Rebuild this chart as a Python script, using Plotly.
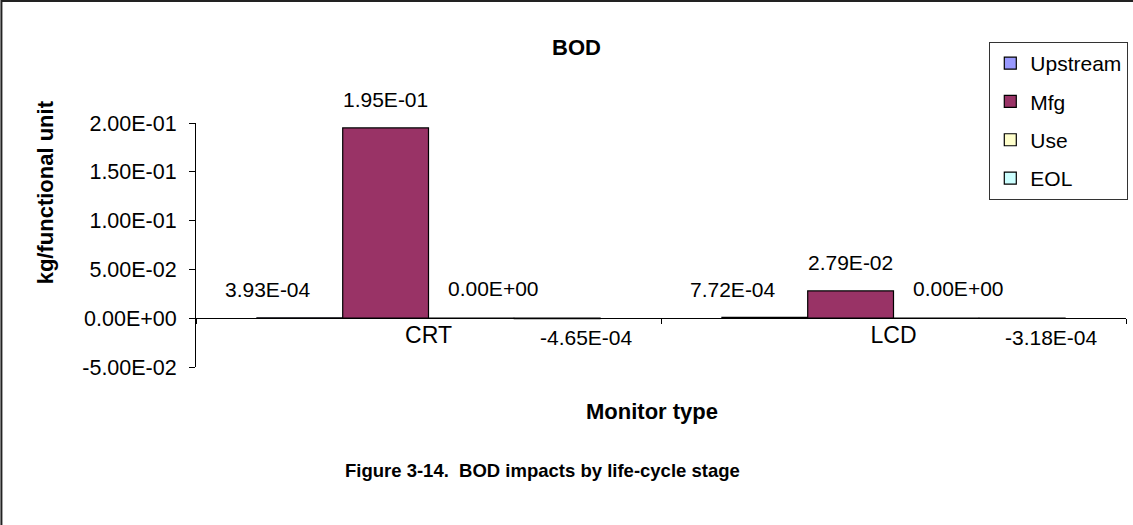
import plotly.graph_objects as go

# ---- data ----
categories = ["CRT", "LCD"]
series_names = ["Upstream", "Mfg", "Use", "EOL"]
upstream = [3.93e-4, 7.72e-4]
mfg = [1.95e-1, 2.79e-2]
use = [0.0, 0.0]
eol = [-4.65e-4, -3.18e-4]
y_ticks = [-0.05, 0.0, 0.05, 0.10, 0.15, 0.20]

series_values = [upstream, mfg, use, eol]
colors = ["#9999FF", "#993366", "#FFFFCC", "#CCFFFF"]

# ---- layout geometry (pixels) ----
W, H = 1133, 525
ML, MR, MT, MB = 196, 5, 123, 158
PW, PH = W - ML - MR, H - MT - MB
y_range = [-0.05, 0.2]
bargap = 0.262

FONT = "Liberation Sans, Arial, sans-serif"

def fmt(v):
    return f"{v:.2E}"

fig = go.Figure()
for i, (name, vals) in enumerate(zip(series_names, series_values)):
    fig.add_trace(go.Bar(
        name=name, x=categories, y=vals,
        marker=dict(color=colors[i], line=dict(color="black", width=1.2)),
        legendgroup=name, hoverinfo="skip",
    ))

# data labels
cat_px = PW / len(categories)
bar_px = cat_px * (1 - bargap) / len(series_names)
label_dx = [-32, 0, 22, 29]
annotations = []
for i, vals in enumerate(series_values):
    for c, v in zip(categories, vals):
        xs = (i - (len(series_names) - 1) / 2) * bar_px + label_dx[i]
        ys = 28 if v > 0 else (30 if v == 0 else -19)
        annotations.append(dict(
            x=c, y=v, xref="x", yref="y", text=fmt(v), showarrow=False,
            xshift=xs, yshift=ys, font=dict(family=FONT, size=21, color="black"),
            xanchor="center", yanchor="middle",
        ))

def px_x(p):
    return (p - ML) / PW

def px_y(p):
    return (H - MB - p) / PH

# titles
title_font = dict(family=FONT, size=22, color="black")
annotations += [
    dict(text="<b>BOD</b>", x=px_x(577), y=px_y(47), xref="paper", yref="paper",
         showarrow=False, xanchor="center", yanchor="middle", font=title_font),
    dict(text="<b>kg/functional unit</b>", x=px_x(45), y=px_y(192), xref="paper", yref="paper",
         showarrow=False, textangle=-90, xanchor="center", yanchor="middle", font=title_font),
    dict(text="<b>Monitor type</b>", x=px_x(653), y=px_y(411), xref="paper", yref="paper",
         showarrow=False, xanchor="center", yanchor="middle", font=title_font),
    dict(text="<b>Figure 3-14.\u00a0 BOD impacts by life-cycle stage</b>", x=px_x(543), y=px_y(470),
         xref="paper", yref="paper", showarrow=False, xanchor="center", yanchor="middle",
         font=dict(family=FONT, size=18.5, color="black")),
]

# outer frame (right and bottom edges fall outside the picture)
shapes = [dict(type="rect", xref="paper", yref="paper",
               x0=px_x(1), x1=px_x(W + 20), y0=px_y(H + 20), y1=px_y(1),
               line=dict(color="#222222", width=2), fillcolor="rgba(0,0,0,0)", layer="below")]

zero_pos = (0 - y_range[0]) / (y_range[1] - y_range[0])

fig.update_layout(
    width=W, height=H,
    margin=dict(l=ML, r=MR, t=MT, b=MB, pad=0),
    paper_bgcolor="white", plot_bgcolor="white",
    barmode="group", bargap=bargap, bargroupgap=0,
    font=dict(family=FONT, color="black"),
    showlegend=True,
    legend=dict(
        x=px_x(991), y=px_y(42), xanchor="left", yanchor="top",
        bordercolor="#333333", borderwidth=1, bgcolor="white",
        font=dict(family=FONT, size=21, color="black"),
        tracegroupgap=8, itemwidth=30,
    ),
    xaxis=dict(
        type="category", anchor="free", position=zero_pos,
        showline=True, linecolor="black", linewidth=1,
        ticks="outside", tickson="boundaries", ticklen=5, tickcolor="black",
        ticklabelstandoff=-4,
        tickfont=dict(family=FONT, size=23, color="black"),
        showgrid=False, zeroline=False, fixedrange=True,
    ),
    yaxis=dict(
        range=y_range, tickvals=y_ticks, ticktext=[fmt(v) for v in y_ticks],
        showline=True, linecolor="black", linewidth=1,
        ticks="outside", ticklen=6, tickcolor="black",
        ticklabelstandoff=8,
        tickfont=dict(family=FONT, size=21.5, color="black"),
        showgrid=False, zeroline=False, fixedrange=True,
    ),
    annotations=annotations,
    shapes=shapes,
)

# remove the default 8px page margin so the figure starts at the window corner
fig.write_html(
    "out.html",
    config={"displayModeBar": False},
    post_script="document.body.style.margin='0';document.body.style.overflow='hidden';",
)
